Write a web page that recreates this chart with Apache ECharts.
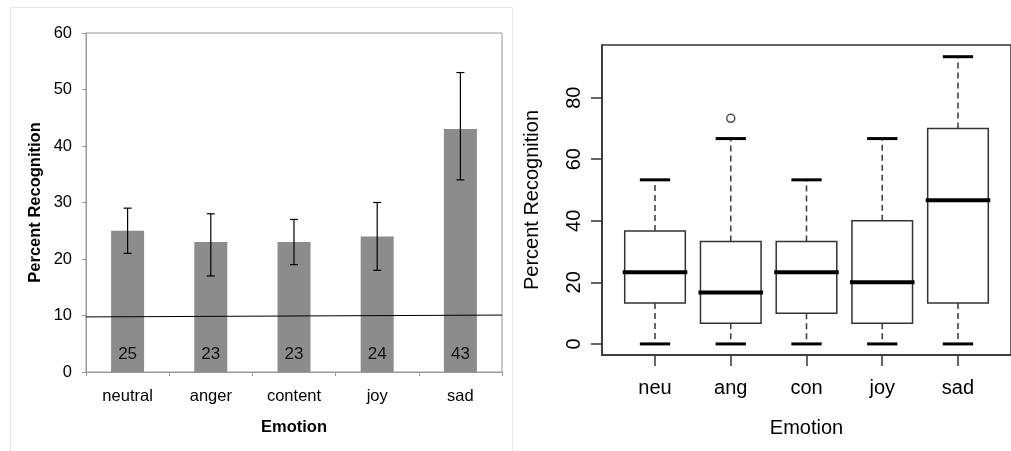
<!DOCTYPE html>
<html>
<head>
<meta charset="utf-8">
<script src="https://cdn.jsdelivr.net/npm/echarts@6/dist/echarts.min.js"></script>
<style>
html,body{margin:0;padding:0;background:#fff;}
#chart{width:1011px;height:451px;}
</style>
</head>
<body>
<div id="chart"></div>
<script>
// ---- Left panel: mean recognition with error bars ----
const barCategories = ['neutral', 'anger', 'content', 'joy', 'sad'];
const barValues = [25, 23, 23, 24, 43];
const errLow = [21, 17, 19, 18, 34];
const errHigh = [29, 28, 27, 30, 53];
const chanceLine = [9.75, 10.08];
const barYTicks = [0, 10, 20, 30, 40, 50, 60];

// ---- Right panel: boxplot ----
const boxCategories = ['neu', 'ang', 'con', 'joy', 'sad'];
const boxMin = [0, 0, 0, 0, 0];
const boxQ1 = [13.3, 6.7, 10, 6.7, 13.3];
const boxMedian = [23.3, 16.7, 23.3, 20, 46.7];
const boxQ3 = [36.7, 33.3, 33.3, 40, 70];
const boxMax = [53.3, 66.7, 53.3, 66.7, 93.3];
const outliers = [[2, 73.3]];
const boxYTicks = [0, 20, 40, 60, 80];

const FONT = 'Liberation Sans, Arial, sans-serif';
const chart = echarts.init(document.getElementById('chart'), null, {renderer: 'canvas'});

const option = {
  animation: false,
  backgroundColor: '#fff',
  textStyle: {fontFamily: FONT, color: '#000'},
  graphic: [{
    type: 'rect', z: -1,
    shape: {x: 10.5, y: 7.5, width: 502, height: 460},
    style: {fill: 'none', stroke: '#e4e4e4', lineWidth: 1}
  }],
  grid: [
    {left: 86, top: 33, width: 416, height: 339, show: true, borderColor: '#999', borderWidth: 1, backgroundColor: 'transparent'},
    {left: 602, top: 45, width: 413, height: 310, show: true, borderColor: '#333', borderWidth: 1.5, backgroundColor: 'transparent'}
  ],
  xAxis: [
    {
      gridIndex: 0, type: 'category', data: barCategories,
      axisLine: {onZero: false, lineStyle: {color: '#999', width: 1}},
      axisTick: {show: true, length: 4, lineStyle: {color: '#999'}},
      axisLabel: {fontSize: 16.5, color: '#000', margin: 16, fontFamily: FONT},
      name: 'Emotion', nameLocation: 'middle', nameGap: 47,
      nameTextStyle: {fontSize: 16.5, fontWeight: 'bold', color: '#000', fontFamily: FONT}
    },
    {
      gridIndex: 1, type: 'value', min: 0.3, max: 5.7,
      splitLine: {show: false},
      axisLine: {show: true, onZero: false, lineStyle: {color: '#333', width: 1.5}},
      axisTick: {show: true, length: 11, customValues: [1, 2, 3, 4, 5], lineStyle: {color: '#333', width: 1.5}},
      axisLabel: {customValues: [1, 2, 3, 4, 5], formatter: v => boxCategories[Math.round(v) - 1],
                  fontSize: 20, color: '#000', margin: 23, fontFamily: FONT},
      name: 'Emotion', nameLocation: 'middle', nameGap: 63,
      nameTextStyle: {fontSize: 20, color: '#000', fontFamily: FONT}
    },
    {
      gridIndex: 0, type: 'value', min: 0, max: 1, show: false
    }
  ],
  yAxis: [
    {
      gridIndex: 0, type: 'value', min: 0, max: 60, interval: 10,
      splitLine: {show: false},
      axisLine: {show: true, onZero: false, lineStyle: {color: '#999', width: 1}},
      axisTick: {show: true, length: 4, lineStyle: {color: '#999'}},
      axisLabel: {fontSize: 16.5, color: '#000', margin: 14, fontFamily: FONT},
      name: 'Percent Recognition', nameLocation: 'middle', nameGap: 42,
      nameTextStyle: {fontSize: 16.5, fontWeight: 'bold', color: '#000', fontFamily: FONT}
    },
    {
      gridIndex: 1, type: 'value', min: -3.6, max: 97.1,
      splitLine: {show: false},
      axisLine: {show: true, onZero: false, lineStyle: {color: '#333', width: 1.5}},
      axisTick: {show: true, length: 11, customValues: boxYTicks, lineStyle: {color: '#333', width: 1.5}},
      axisLabel: {customValues: boxYTicks, rotate: 90, fontSize: 20, color: '#000', margin: 18, fontFamily: FONT},
      name: 'Percent Recognition', nameLocation: 'middle', nameGap: 60,
      nameTextStyle: {fontSize: 20, color: '#000', fontFamily: FONT}
    }
  ],
  series: [
    {
      type: 'bar', xAxisIndex: 0, yAxisIndex: 0,
      data: barValues, barWidth: 33,
      itemStyle: {color: '#8c8c8c'},
      label: {show: true, position: 'insideBottom', distance: 9, fontSize: 17, color: '#111', fontFamily: FONT},
      z: 2
    },
    {
      type: 'line', xAxisIndex: 2, yAxisIndex: 0,
      data: [[0, chanceLine[0]], [1, chanceLine[1]]],
      symbol: 'none', lineStyle: {color: '#000', width: 1}, z: 3
    },
    {
      type: 'custom', xAxisIndex: 0, yAxisIndex: 0, z: 4,
      data: barCategories.map((c, i) => [i, errLow[i], errHigh[i]]),
      encode: {x: 0, y: [1, 2]},
      renderItem: function (params, api) {
        const x = api.value(0);
        const lo = api.coord([x, api.value(1)]);
        const hi = api.coord([x, api.value(2)]);
        const hw = 4;
        const st = {stroke: '#000', lineWidth: 1.2};
        return {type: 'group', children: [
          {type: 'line', shape: {x1: lo[0], y1: lo[1], x2: hi[0], y2: hi[1]}, style: st},
          {type: 'line', shape: {x1: lo[0] - hw, y1: lo[1], x2: lo[0] + hw, y2: lo[1]}, style: st},
          {type: 'line', shape: {x1: hi[0] - hw, y1: hi[1], x2: hi[0] + hw, y2: hi[1]}, style: st}
        ]};
      }
    },
    {
      type: 'custom', xAxisIndex: 1, yAxisIndex: 1, z: 4,
      data: boxCategories.map((c, i) => [i + 1, boxMin[i], boxQ1[i], boxMedian[i], boxQ3[i], boxMax[i]]),
      encode: {x: 0, y: [1, 2, 3, 4, 5]},
      renderItem: function (params, api) {
        const x = api.value(0);
        const pMin = api.coord([x, api.value(1)]);
        const pQ1 = api.coord([x, api.value(2)]);
        const pMed = api.coord([x, api.value(3)]);
        const pQ3 = api.coord([x, api.value(4)]);
        const pMax = api.coord([x, api.value(5)]);
        const boxHW = api.size([0.8, 0])[0] / 2;
        const stapleHW = api.size([0.4, 0])[0] / 2;
        const cx = pMed[0];
        const dash = {stroke: '#444', lineWidth: 1.6, lineDash: [6, 4]};
        return {type: 'group', children: [
          {type: 'line', shape: {x1: cx, y1: pQ3[1], x2: cx, y2: pMax[1]}, style: dash},
          {type: 'line', shape: {x1: cx, y1: pQ1[1], x2: cx, y2: pMin[1]}, style: dash},
          {type: 'rect', shape: {x: cx - boxHW, y: pQ3[1], width: boxHW * 2, height: pQ1[1] - pQ3[1]},
           style: {fill: '#fff', stroke: '#333', lineWidth: 1.5}},
          {type: 'line', shape: {x1: cx - boxHW - 2, y1: pMed[1], x2: cx + boxHW + 2, y2: pMed[1]},
           style: {stroke: '#000', lineWidth: 4}},
          {type: 'line', shape: {x1: cx - stapleHW, y1: pMax[1], x2: cx + stapleHW, y2: pMax[1]},
           style: {stroke: '#000', lineWidth: 3}},
          {type: 'line', shape: {x1: cx - stapleHW, y1: pMin[1], x2: cx + stapleHW, y2: pMin[1]},
           style: {stroke: '#000', lineWidth: 3}}
        ]};
      }
    },
    {
      type: 'scatter', xAxisIndex: 1, yAxisIndex: 1, z: 5,
      data: outliers, symbol: 'circle', symbolSize: 8,
      itemStyle: {color: '#fff', borderColor: '#222', borderWidth: 1.5}
    }
  ]
};
chart.setOption(option);
</script>
</body>
</html>
